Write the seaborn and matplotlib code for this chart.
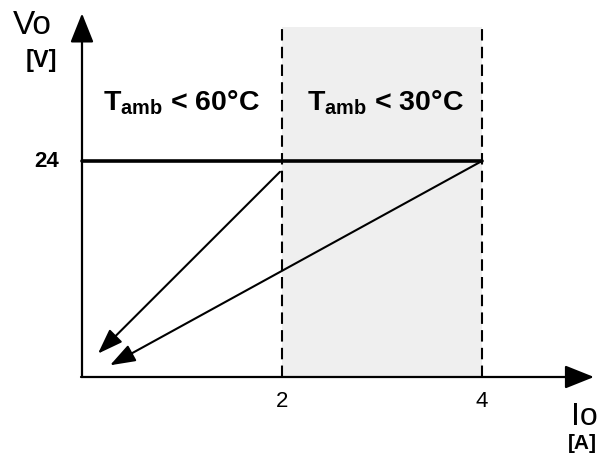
import matplotlib.pyplot as plt
import seaborn as sns

# derating curve: output voltage vs output current
band_edges = [2, 4]          # A, edges of the shaded (< 30 C) band
band_top = 38.9
rated_x = [0, 4]             # A
rated_y = [24, 24]           # V
# foldback arrows: start point -> end point
fold_start_x = [1.98, 4.0]
fold_start_y = [22.8, 24.0]
fold_end_x = [0.16, 0.28]
fold_end_y = [2.6, 1.3]
tick_vals = [2, 4]
tick_labels = ["2", "4"]
region_labels = [r"$\mathbf{T_{amb}}$ < 60°C", r"$\mathbf{T_{amb}}$ < 30°C"]
region_x = [0.99, 3.03]

sns.set_style("white")
plt.rcParams["font.family"] = ["Liberation Sans", "DejaVu Sans"]
plt.rcParams["text.color"] = "black"
plt.rcParams["mathtext.fontset"] = "custom"
plt.rcParams["mathtext.bf"] = "Liberation Sans:bold"
plt.rcParams["mathtext.rm"] = "Liberation Sans"

fig = plt.figure(figsize=(6, 4.64), dpi=100)
ax = fig.add_axes([0, 0, 1, 1])
ax.set_xlim(-0.82, 5.18)
ax.set_ylim(-9.556, 42)
ax.axis("off")

# shaded band + dashed borders
ax.fill_between(band_edges, 0, band_top, color="#efefef", lw=0, zorder=0)
for xb in band_edges:
    ax.plot([xb, xb], [0, band_top], color="black", lw=1.5, ls=(0, (5.5, 3)), zorder=2)

# rated output line
sns.lineplot(x=rated_x, y=rated_y, color="black", lw=2.6, ax=ax, zorder=3)

# axes with arrows
arr = dict(arrowstyle="-|>,head_length=1.5,head_width=0.6", color="black", lw=1.6,
           shrinkA=0, shrinkB=0, mutation_scale=12)
ax.annotate("", xy=(0, 40.4), xytext=(0, 0), arrowprops=arr, zorder=4)
ax.annotate("", xy=(5.12, 0), xytext=(-0.01, 0), arrowprops=arr, zorder=4)

# foldback arrows
for x0, y0, x1, y1 in zip(fold_start_x, fold_start_y, fold_end_x, fold_end_y):
    ax.annotate("", xy=(x1, y1), xytext=(x0, y0),
                arrowprops=dict(arrowstyle="-|>,head_length=1.4,head_width=0.5",
                                color="black", lw=1.5, shrinkA=0, shrinkB=0,
                                mutation_scale=11), zorder=4)

# labels
for xv, lab in zip(tick_vals, tick_labels):
    ax.text(xv, -2.6, lab, ha="center", va="center", fontsize=16)
ax.text(-0.35, 24, "24", ha="center", va="center", fontsize=16, fontweight="bold")
ax.text(-0.5, 39.2, "Vo", ha="center", va="center", fontsize=24)
ax.text(-0.41, 35.3, "[V]", ha="center", va="center", fontsize=17, fontweight="bold")
ax.text(5.02, -4.3, "Io", ha="center", va="center", fontsize=23)
ax.text(5.0, -7.3, "[A]", ha="center", va="center", fontsize=15, fontweight="bold")
for xr, lab in zip(region_x, region_labels):
    ax.text(xr, 30.6, lab, ha="center", va="center", fontsize=20.5, fontweight="bold")

fig.savefig("out.png", dpi=100)
